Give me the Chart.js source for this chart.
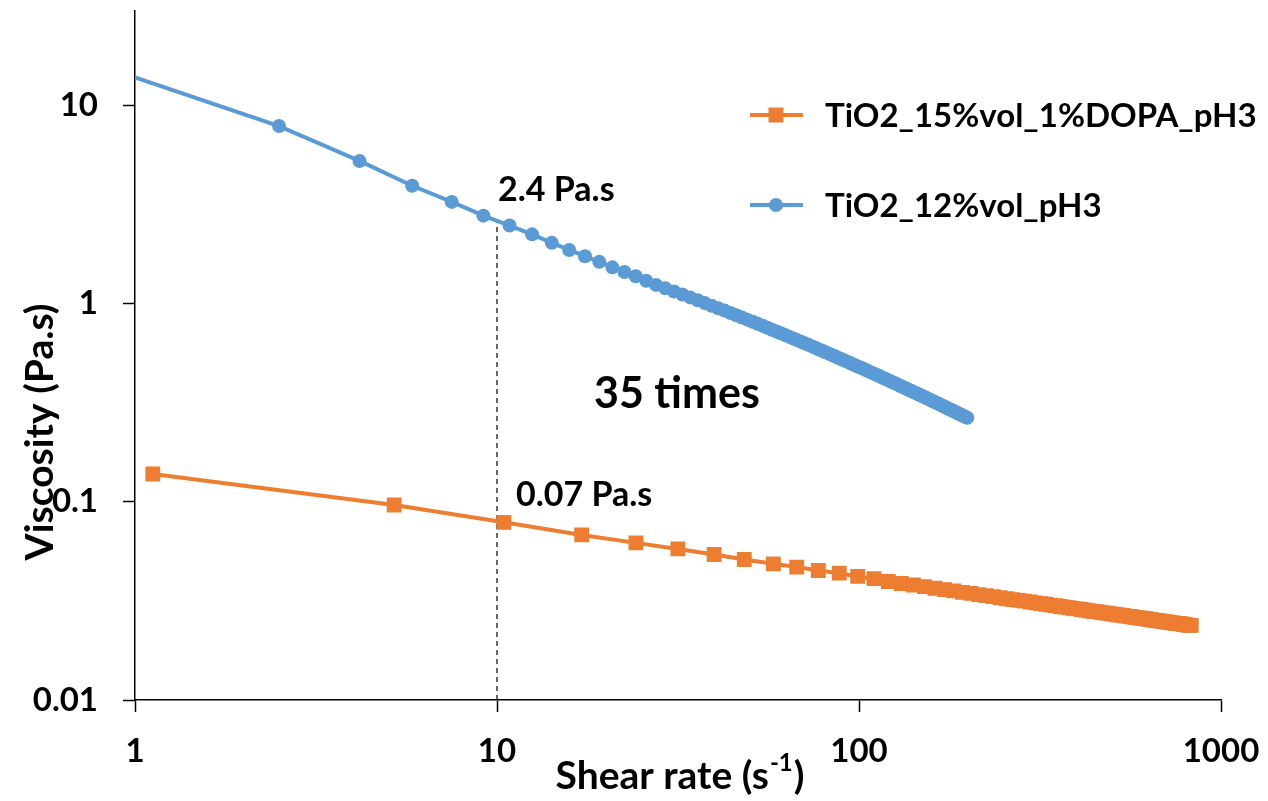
<!DOCTYPE html>
<html>
<head>
<meta charset="utf-8">
<script src="https://cdn.jsdelivr.net/npm/chart.js@4.4.1/dist/chart.umd.min.js"></script>
<style>
  html, body { margin: 0; padding: 0; background: #fff; }
  #caixa { width: 1268px; height: 801px; }
</style>
</head>
<body>
<div id="caixa"><canvas id="grafico" width="1268" height="801"></canvas></div>
<script>
// TiO2 12%vol pH3 - taxa de cisalhamento (1/s) e viscosidade (Pa.s)
const taxa12 = [
  0.83, 2.5, 4.17, 5.83, 7.5, 9.17, 10.83, 12.5, 14.17, 15.83, 17.5, 19.17, 20.83, 22.5, 24.17, 25.83,
  27.5, 29.17, 30.83, 32.5, 34.17, 35.83, 37.5, 39.17, 40.83, 42.5, 44.17, 45.83, 47.5, 49.17, 50.83,
  52.5, 54.17, 55.83, 57.5, 59.17, 60.83, 62.5, 64.17, 65.83, 67.5, 69.17, 70.83, 72.5, 74.17, 75.83,
  77.5, 79.17, 80.83, 82.5, 84.17, 85.83, 87.5, 89.17, 90.83, 92.5, 94.17, 95.83, 97.5, 99.17, 100.83,
  102.5, 104.17, 105.83, 107.5, 109.17, 110.83, 112.5, 114.17, 115.83, 117.5, 119.17, 120.83, 122.5,
  124.17, 125.83, 127.5, 129.17, 130.83, 132.5, 134.17, 135.83, 137.5, 139.17, 140.83, 142.5, 144.17,
  145.83, 147.5, 149.17, 150.83, 152.5, 154.17, 155.83, 157.5, 159.17, 160.83, 162.5, 164.17, 165.83,
  167.5, 169.17, 170.83, 172.5, 174.17, 175.83, 177.5, 179.17, 180.83, 182.5, 184.17, 185.83, 187.5,
  189.17, 190.83, 192.5, 194.17, 195.83, 197.5, 199.17
]
const visc12 = [
  15.5, 7.84, 5.23, 3.92, 3.25, 2.77, 2.47, 2.23, 2.02, 1.86, 1.73, 1.62, 1.52, 1.44, 1.37, 1.30,
  1.24, 1.192, 1.149, 1.109, 1.072, 1.037, 1.005, 0.974, 0.946, 0.920, 0.895, 0.871, 0.849, 0.828, 0.808,
  0.789, 0.771, 0.754, 0.737, 0.722, 0.707, 0.692, 0.678, 0.665, 0.653, 0.641, 0.629, 0.618, 0.607, 0.597,
  0.586, 0.577, 0.567, 0.558, 0.549, 0.541, 0.532, 0.525, 0.517, 0.509, 0.502, 0.495, 0.488, 0.481, 0.475,
  0.469, 0.463, 0.456, 0.450, 0.445, 0.439, 0.434, 0.429, 0.423, 0.418, 0.414, 0.409, 0.404,
  0.399, 0.395, 0.391, 0.386, 0.382, 0.378, 0.374, 0.370, 0.366, 0.363, 0.359, 0.355, 0.352,
  0.348, 0.345, 0.342, 0.338, 0.335, 0.332, 0.329, 0.326, 0.323, 0.320, 0.317, 0.314, 0.312,
  0.309, 0.306, 0.304, 0.301, 0.298, 0.296, 0.293, 0.291, 0.289, 0.286, 0.284, 0.282, 0.279,
  0.277, 0.275, 0.273, 0.271, 0.269, 0.267, 0.265
]

// TiO2 15%vol 1%DOPA pH3
const taxa15 = [
  1.12, 5.2, 10.45, 17.14, 24.2, 31.6, 39.8, 48.2, 58.0, 67.3, 77.2, 88.2, 99.2, 110, 120.5,
  130.9, 141.3, 151.7, 162.1, 172.5, 182.9, 193.3, 203.7, 214.1, 224.5, 234.9, 245.3, 255.7, 266.1,
  276.5, 286.9, 297.3, 307.7, 318.1, 328.5, 338.9, 349.3, 359.7, 370.1, 380.5, 390.9, 401.3, 411.7,
  422.1, 432.5, 442.9, 453.3, 463.7, 474.1, 484.5, 494.9, 505.3, 515.7, 526.1, 536.5, 546.9, 557.3,
  567.7, 578.1, 588.5, 598.9, 609.3, 619.7, 630.1, 640.5, 650.9, 661.3, 671.7, 682.1, 692.5, 702.9,
  713.3, 723.7, 734.1, 744.5, 754.9, 765.3, 775.7, 786.1, 796.5, 806.9, 817.3, 827.7
]
const visc15 = [
  0.138, 0.0962, 0.0787, 0.0680, 0.0620, 0.0578, 0.0542, 0.0511, 0.0486, 0.0468, 0.0450, 0.0436, 0.0420, 0.0409, 0.0396,
  0.0387, 0.0380, 0.0373, 0.0366, 0.0360, 0.0355, 0.0349, 0.0345, 0.0340, 0.0336, 0.0332, 0.0328, 0.0324, 0.0321,
  0.0318, 0.0315, 0.0312, 0.0309, 0.0306, 0.0304, 0.0301, 0.0299, 0.0296, 0.0294, 0.0292, 0.0290, 0.0288, 0.0286,
  0.0284, 0.0282, 0.0280, 0.0279, 0.0277, 0.0275, 0.0274, 0.0272, 0.0271, 0.0269, 0.0268, 0.0267, 0.0265, 0.0264,
  0.0263, 0.0261, 0.0260, 0.0259, 0.0258, 0.0257, 0.0255, 0.0254, 0.0253, 0.0252, 0.0251, 0.0250, 0.0249, 0.0248,
  0.0247, 0.0246, 0.0245, 0.0244, 0.0243, 0.0243, 0.0242, 0.0241, 0.0240, 0.0239, 0.0238, 0.0238
]

// linha tracejada em 10 1/s
const taxaRef = [10, 10]
const viscRef = [0.01, 2.6]

const ticksX = [1, 10, 100, 1000]
const ticksY = [0.01, 0.1, 1, 10]

const nome12 = 'TiO2_12%vol_pH3'
const nome15 = 'TiO2_15%vol_1%DOPA_pH3'

const FONTE = 'Lato, "Open Sans", sans-serif'
const AZUL = '#5B9BD5'
const LARANJA = '#ED7D31'

function pontos(xs, ys) {
    return xs.map((x, i) => ({ x: x, y: ys[i] }))
}

// legenda, anotacoes e titulos dos eixos
const textos = {
    id: 'textos',
    afterDraw(chart) {
        const ctx = chart.ctx
        ctx.save()
        ctx.fillStyle = '#000'
        ctx.textBaseline = 'middle'

        // legenda
        const itens = [
            { nome: nome15, cor: LARANJA, y: 115, quadrado: true },
            { nome: nome12, cor: AZUL, y: 205, quadrado: false }
        ]
        for (const item of itens) {
            ctx.strokeStyle = item.cor
            ctx.lineWidth = 4
            ctx.beginPath()
            ctx.moveTo(750, item.y)
            ctx.lineTo(803, item.y)
            ctx.stroke()
            ctx.fillStyle = item.cor
            if (item.quadrado) {
                ctx.fillRect(776 - 7.5, item.y - 7.5, 15, 15)
            } else {
                ctx.beginPath()
                ctx.arc(776, item.y, 7, 0, Math.PI * 2)
                ctx.fill()
            }
            ctx.fillStyle = '#000'
            ctx.textAlign = 'left'
            ctx.font = 'bold 33px ' + FONTE
            ctx.fillText(item.nome, 825, item.y + 1)
        }

        // anotacoes
        ctx.textAlign = 'left'
        ctx.font = 'bold 34px ' + FONTE
        ctx.fillText('2.4 Pa.s', 498, 190)
        ctx.fillText('0.07 Pa.s', 516, 495)
        ctx.font = 'bold 43px ' + FONTE
        ctx.fillText('35 times', 594, 394)

        // titulo eixo y
        ctx.save()
        ctx.translate(40, 432)
        ctx.rotate(-Math.PI / 2)
        ctx.textAlign = 'center'
        ctx.font = 'bold 39px ' + FONTE
        ctx.fillText('Viscosity (Pa.s)', 0, 0)
        ctx.restore()

        // titulo eixo x com expoente
        const parte1 = 'Shear rate (s'
        const expo = '-1'
        const parte2 = ')'
        ctx.font = 'bold 39px ' + FONTE
        const w1 = ctx.measureText(parte1).width
        const w3 = ctx.measureText(parte2).width
        ctx.font = 'bold 24px ' + FONTE
        const w2 = ctx.measureText(expo).width
        const xi = 679 - (w1 + w2 + w3) / 2
        const yb = 776
        ctx.textAlign = 'left'
        ctx.font = 'bold 39px ' + FONTE
        ctx.fillText(parte1, xi, yb)
        ctx.font = 'bold 24px ' + FONTE
        ctx.fillText(expo, xi + w1 + 1, yb - 13)
        ctx.font = 'bold 39px ' + FONTE
        ctx.fillText(parte2, xi + w1 + w2 + 2, yb)

        ctx.restore()
    }
}

const graficoReal = document.getElementById('grafico')

new Chart(graficoReal, {
    type: 'line',
    data: {
        datasets: [
            {
                label: 'ref',
                data: pontos(taxaRef, viscRef),
                borderColor: '#000',
                borderWidth: 1.2,
                borderDash: [5, 4],
                pointRadius: 0,
                order: 3
            },
            {
                label: nome15,
                data: pontos(taxa15, visc15),
                borderColor: LARANJA,
                backgroundColor: LARANJA,
                borderWidth: 4,
                pointStyle: 'rect',
                pointRadius: 10.5,
                pointBorderWidth: 0,
                tension: 0,
                order: 2
            },
            {
                label: nome12,
                data: pontos(taxa12, visc12),
                borderColor: AZUL,
                backgroundColor: AZUL,
                borderWidth: 4,
                pointStyle: 'circle',
                pointRadius: 7,
                pointBorderWidth: 0,
                tension: 0,
                clip: 0,
                order: 1
            }
        ]
    },
    options: {
        responsive: false,
        animation: false,
        events: [],
        layout: { padding: { top: 8, right: 47, left: 0, bottom: 0 } },
        plugins: {
            legend: { display: false },
            tooltip: { enabled: false }
        },
        scales: {
            x: {
                type: 'logarithmic',
                min: 1,
                max: 1000,
                afterBuildTicks: (eixo) => { eixo.ticks = ticksX.map(v => ({ value: v })) },
                afterFit: (eixo) => {
                    eixo.height = 101
                    eixo.paddingLeft = 0
                    eixo.paddingRight = 0
                },
                ticks: {
                    color: '#000',
                    padding: 20,
                    maxRotation: 0,
                    font: { family: FONTE, size: 33, weight: 'bold' },
                    callback: (v) => String(v)
                },
                grid: { drawOnChartArea: false, tickLength: 12, tickColor: '#000', tickWidth: 1.5 },
                border: { display: true, color: '#000', width: 1.5 }
            },
            y: {
                type: 'logarithmic',
                min: 0.01,
                max: 30,
                afterBuildTicks: (eixo) => { eixo.ticks = ticksY.map(v => ({ value: v })) },
                afterFit: (eixo) => {
                    eixo.width = 135
                    eixo.paddingTop = 0
                    eixo.paddingBottom = 0
                },
                ticks: {
                    color: '#000',
                    padding: 25,
                    font: { family: FONTE, size: 33, weight: 'bold' },
                    callback: (v) => String(v)
                },
                grid: { drawOnChartArea: false, tickLength: 12, tickColor: '#000', tickWidth: 1.5 },
                border: { display: true, color: '#000', width: 1.5 }
            }
        }
    },
    plugins: [textos]
})
</script>
</body>
</html>
